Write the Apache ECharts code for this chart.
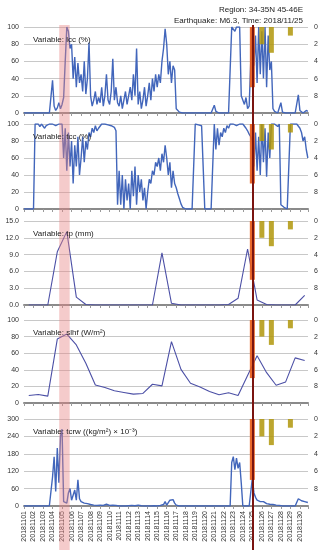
<!DOCTYPE html>
<html><head><meta charset="utf-8">
<script src="https://cdn.jsdelivr.net/npm/echarts@6/dist/echarts.min.js"></script>
<style>html,body{margin:0;padding:0;background:#fff}#c{width:324px;height:550px}</style>
</head><body><div id="c"></div>
<script>
// ---------- DATA ----------
const dayLabels = ['20181101','20181102','20181103','20181104','20181105','20181106','20181107','20181108','20181109','20181110',
 '20181111','20181112','20181113','20181114','20181115','20181116','20181117','20181118','20181119','20181120',
 '20181121','20181122','20181123','20181124','20181125','20181126','20181127','20181128','20181129','20181130'];
const samplesPerDay = 6; // 4-hourly samples, day 1 .. day 30
const lcc = [
 0,0,0,0,0,0, 0,0,0,0,0,0, 0,0,0,0,0,0, 38,8,3,6,12,5, 10,18,60,100,95,75,
 80,40,65,30,58,35, 45,25,60,22,40,82, 20,8,15,25,10,18, 12,30,8,20,45,15, 10,25,63,15,30,12,
 8,20,5,15,25,10, 10,30,15,45,20,75, 10,25,5,15,30,8, 20,35,15,40,25,45, 30,45,35,60,75,98,
 80,45,60,35,55,50, 5,3,1,0,0,0, 0,0,0,0,0,0, 0,0,0,0,0,0, 0,0,0,0,0,0,
 9,2,0,0,0,0, 0,0,0,0,0,100, 100,95,100,98,100,20, 22,10,18,5,8,60, 100,55,90,35,100,45,
 95,40,100,30,90,50, 60,5,2,1,0,0, 12,1,0,0,0,0, 0,0,0,0,0,21, 3,2,0,1,3,2];
const tcc = [
 0,0,0,0,0,0, 0,100,100,100,97,100, 100,95,98,100,100,100, 100,100,98,100,100,100, 100,60,95,45,90,50,
 80,30,75,50,85,40, 60,85,55,80,70,90, 85,95,90,98,92,95, 97,100,98,100,100,99, 100,98,100,96,92,5,
 45,5,40,0,35,10, 30,0,45,15,50,5, 40,20,35,10,25,0, 20,35,30,45,40,55, 50,60,45,65,55,75,
 60,40,55,25,45,30, 25,18,12,6,2,0, 0,0,0,0,0,0, 100,100,99,100,98,100, 0,0,0,0,0,0,
 100,70,95,75,90,85, 95,90,98,95,100,98, 100,100,98,100,100,99, 100,98,95,92,88,85, 80,50,90,45,85,40,
 100,55,95,38,90,60, 100,98,100,100,97,100, 5,3,2,0,0,0, 100,100,100,99,100,98, 95,90,80,85,70,60];
const tp = [0,0,0,9.5,13.1,1.4,0.1,0,0,0,0,0,0,0,9.3,0.3,0,0,0,0,0,0.1,1.2,10.0,0.9,0.1,0,0,0,1.7];
const slhf = [9.1,10.3,8.3,77,83,70,48,21.8,18.7,14.7,12.7,10.7,11.5,22.6,20.6,74,40.5,23.8,19.4,13.9,9.9,12.3,9.1,33,57,36.5,21.4,25.4,54.4,51.2];
const tcrw = [
 0,0,0,0,0,0, 0,0,0,0,0,0, 0,0,0,0,1,3, 100,170,50,200,80,240, 265,15,20,10,45,60,
 20,15,55,20,90,25, 15,12,10,12,8,10, 5,8,3,6,2,4, 3,5,2,4,6,2, 2,1,3,0,2,1,
 0,1,0,2,0,0, 1,3,2,4,1,2, 3,2,1,2,0,1, 0,1,0,0,1,0, 0,0,2,0,5,15,
 3,8,20,15,22,10, 3,1,0,0,0,0, 0,0,0,0,0,0, 0,0,0,0,0,0, 0,0,0,0,0,0,
 0,0,0,0,0,0, 0,0,0,0,0,150, 170,125,165,130,150,80, 0,0,0,0,0,0, 95,45,30,20,25,15,
 12,15,10,8,12,6, 8,5,6,3,4,2, 0,0,0,0,0,0, 0,0,0,0,0,25, 22,18,20,15,18,12];
// aftershock bars (right axis, inverted)
const barDays = [25,26,27,29];
const barValues = [7,2,3,1];
const barBaseByPanel = [0,0,0,2,0]; // bars in the slhf panel hang from 2
const quakeDay = 25;
const bandStart = 4.7, bandEnd = 5.8;
const titleLines = ['Region: 34-35N 45-46E','Earthquake: M6.3, Time: 2018/11/25'];
const varLabels = ['Variable: lcc (%)','Variable: tcc (%)','Variable: tp (mm)','Variable: slhf (W/m\u00B2)','Variable: tcrw ((kg/m\u00B2) \u00D7 10\u207B\u00B3)'];

// ---------- LAYOUT ----------
const FONT = 'Liberation Sans, Arial, sans-serif';
const panels = [
 {top:27, h:86, max:100, interval:20, dec:0, data:lcc, hourly:true},
 {top:124, h:85, max:100, interval:20, dec:0, data:tcc, hourly:true},
 {top:221, h:84, max:15, interval:3, dec:1, data:tp, hourly:false},
 {top:320, h:83, max:100, interval:20, dec:0, data:slhf, hourly:false},
 {top:419, h:87, max:300, interval:60, dec:0, data:tcrw, hourly:true}
];
const GL = 24, GR = 16, XMIN = 1, XMAX = 30.85;

const grids=[], xAxes=[], yAxes=[], series=[], titles=[];
titleLines.forEach((t,k)=>titles.push({text:t, right:GR, top:1+k*10.5,
  textStyle:{fontSize:8, fontWeight:'normal', color:'#222', fontFamily:FONT}}));
panels.forEach((p,i)=>{
  grids.push({left:GL, right:GR, top:p.top, height:p.h, containLabel:false});
  const last = i===panels.length-1;
  xAxes.push({type:'value', gridIndex:i, min:XMIN, max:XMAX, interval:1,
    axisLine:{show:true, onZero:false, lineStyle:{color:'#8a8a8a', width:2}},
    axisTick:{show:true, length:3, lineStyle:{color:'#9a9a9a'}},
    splitLine:{show:false},
    axisLabel:{show:last, rotate:90, fontSize:7, color:'#333', fontFamily:FONT, margin:5,
      formatter:v=>Number.isInteger(v)&&dayLabels[v-1]?dayLabels[v-1]:''}});
  yAxes.push({type:'value', gridIndex:i, min:0, max:p.max, interval:p.interval, position:'left',
    axisLine:{show:false}, axisTick:{show:false},
    splitLine:{show:true, lineStyle:{color:'#c8c8c8', width:1}},
    axisLabel:{fontSize:7, color:'#333', fontFamily:FONT, margin:5, formatter:v=>v.toFixed(p.dec)}});
  yAxes.push({type:'value', gridIndex:i, min:0, max:10, interval:2, inverse:true, position:'right',
    axisLine:{show:false}, axisTick:{show:false}, splitLine:{show:false},
    axisLabel:{fontSize:7, color:'#333', fontFamily:FONT, margin:6, formatter:v=>v===10?'':String(v)}});
  const d = p.hourly ? p.data.map((v,k)=>[XMIN + k/samplesPerDay, v]) : p.data.map((v,k)=>[k+1.5, v]);
  series.push({type:'line', xAxisIndex:i, yAxisIndex:2*i, data:d, symbol:'none', silent:true, z:2,
    lineStyle:{color: p.hourly ? '#4266bb' : '#4c50a6', width: p.hourly ? 1.4 : 1.1}});
  const base = barBaseByPanel[i];
  if (base > 0) {
    series.push({type:'bar', xAxisIndex:i, yAxisIndex:2*i+1, barWidth:5, silent:true, z:4, stack:'s'+i,
      data: barDays.map(dd=>({value:[dd, base], itemStyle:{color:'rgba(0,0,0,0)'}}))});
  }
  series.push({type:'bar', xAxisIndex:i, yAxisIndex:2*i+1, barWidth:5, silent:true, z:4, stack:'s'+i,
    data: barDays.map((dd,k)=>({value:[dd, barValues[k]],
      itemStyle:{color: k===0 ? 'rgba(232,92,24,0.92)' : 'rgba(176,150,10,0.85)'}}))});
  titles.push({text:varLabels[i], left:GL+4, top:p.top+3.5,
    textStyle:{fontSize:8, fontWeight:'normal', color:'#222', fontFamily:FONT}});
});
// overlay grid spanning all panels for band and quake line
grids.push({left:GL, right:GR, top:25, bottom:0});
xAxes.push({type:'value', gridIndex:5, min:XMIN, max:XMAX, show:false});
yAxes.push({type:'value', gridIndex:5, min:0, max:1, show:false});
series.push({type:'line', xAxisIndex:5, yAxisIndex:10, data:[], silent:true, z:6,
  markArea:{silent:true, z:3, itemStyle:{color:'rgba(232,130,130,0.42)'}, data:[[{xAxis:bandStart},{xAxis:bandEnd}]]},
  markLine:{silent:true, z:7, symbol:'none', label:{show:false}, animation:false,
    lineStyle:{color:'#7a1410', width:2, type:'solid'}, data:[{xAxis:quakeDay}]}});

const chart = echarts.init(document.getElementById('c'), null, {renderer:'canvas'});
chart.setOption({animation:false, backgroundColor:'#fff', title:titles, grid:grids, xAxis:xAxes, yAxis:yAxes, series:series});
</script></body></html>
